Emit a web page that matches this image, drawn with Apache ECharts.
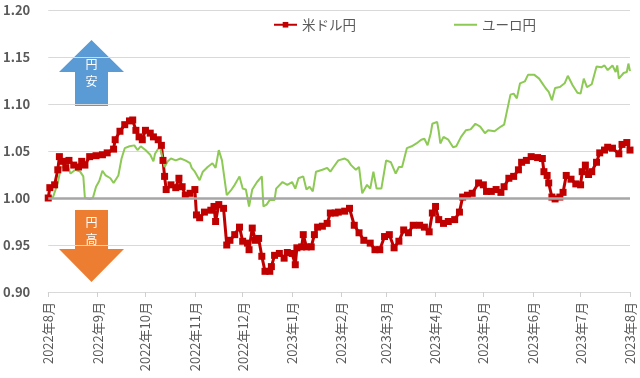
<!DOCTYPE html>
<html>
<head>
<meta charset="utf-8">
<script src="https://cdn.jsdelivr.net/npm/echarts@6/dist/echarts.min.js"></script>
<style>
  html, body { margin: 0; padding: 0; background: #fff; }
  #chart { width: 640px; height: 378px; }
</style>
</head>
<body>
<div id="chart"></div>
<script>
  // 2022/8/1 = 1.00 として指数化（日数は 2022/8/1 からの経過日）
  const usdDays = [0, 1, 4, 6, 7, 9, 11, 13, 16, 19, 21, 23, 26, 30, 34, 37, 41, 42, 45, 48,
    51, 53, 55, 57, 59, 61, 64, 66, 69, 71, 72, 73, 74, 77, 80, 82, 84, 86, 89, 92,
    93, 95, 98, 102, 104, 105, 107, 110, 112, 114, 117, 120, 122, 125, 126, 128, 130, 132, 134, 136,
    139, 140, 142, 145, 148, 150, 153, 155, 156, 159, 160, 162, 165, 167, 169, 172, 175, 177, 180, 182,
    186, 189, 192, 195, 198, 202, 205, 208, 211, 214, 217, 220, 223, 226, 229, 233, 236, 239, 241, 243,
    245, 248, 251, 255, 258, 260, 263, 266, 270, 273, 275, 278, 281, 284, 286, 289, 292, 295, 297, 300,
    303, 307, 310, 311, 313, 314, 316, 318, 321, 323, 325, 328, 331, 334, 335, 337, 339, 341, 344, 346,
    349, 351, 354, 358, 360, 363, 365]
  const usdJpy = [1.000, 1.011, 1.014, 1.030, 1.044, 1.039, 1.032, 1.040, 1.035, 1.033, 1.039, 1.035, 1.044, 1.045, 1.046, 1.048, 1.052, 1.062, 1.071, 1.078,
    1.082, 1.083, 1.072, 1.065, 1.062, 1.072, 1.069, 1.065, 1.062, 1.056, 1.040, 1.023, 1.009, 1.014, 1.011, 1.021, 1.012, 1.003, 1.005, 1.009,
    0.982, 0.979, 0.985, 0.987, 0.991, 0.975, 0.993, 0.989, 0.950, 0.955, 0.961, 0.969, 0.954, 0.952, 0.945, 0.968, 0.955, 0.957, 0.938, 0.922,
    0.922, 0.927, 0.939, 0.941, 0.936, 0.942, 0.941, 0.929, 0.947, 0.948, 0.961, 0.948, 0.948, 0.961, 0.969, 0.970, 0.973, 0.984, 0.984, 0.985,
    0.986, 0.989, 0.971, 0.963, 0.955, 0.952, 0.945, 0.945, 0.959, 0.961, 0.947, 0.954, 0.966, 0.963, 0.971, 0.971, 0.969, 0.964, 0.984, 0.991,
    0.977, 0.973, 0.975, 0.977, 0.985, 1.001, 1.003, 1.005, 1.016, 1.014, 1.007, 1.007, 1.009, 1.006, 1.012, 1.021, 1.023, 1.030, 1.038, 1.040,
    1.044, 1.043, 1.042, 1.028, 1.024, 1.016, 1.001, 0.999, 1.001, 1.006, 1.024, 1.020, 1.015, 1.014, 1.028, 1.035, 1.025, 1.028, 1.038, 1.048,
    1.051, 1.054, 1.053, 1.047, 1.057, 1.059, 1.051]

  const eurDays = [0, 3, 6, 8, 11, 12, 14, 17, 20, 22, 23, 26, 28, 30, 32, 34, 36, 39, 41, 44,
    46, 48, 51, 54, 56, 58, 61, 64, 66, 67, 70, 71, 73, 75, 77, 80, 83, 86, 89, 90,
    92, 95, 97, 100, 103, 105, 107, 109, 110, 112, 115, 117, 120, 122, 124, 126, 128, 131, 134, 135,
    137, 139, 142, 143, 147, 150, 153, 155, 157, 160, 162, 164, 166, 168, 172, 175, 177, 179, 182, 186,
    188, 190, 193, 195, 197, 200, 202, 204, 206, 209, 212, 215, 218, 220, 222, 225, 228, 231, 234, 236,
    238, 240, 241, 244, 245, 246, 248, 251, 254, 256, 259, 262, 265, 268, 271, 274, 276, 280, 284, 286,
    288, 290, 292, 294, 296, 299, 301, 305, 308, 310, 312, 314, 316, 318, 321, 324, 326, 329, 332, 334,
    336, 338, 341, 344, 347, 349, 351, 354, 356, 357, 358, 361, 363, 364, 365]
  const eurJpy = [1.000, 1.001, 1.016, 1.033, 1.032, 1.035, 1.026, 1.030, 1.028, 1.023, 1.000, 0.999, 1.000, 1.012, 1.018, 1.029, 1.024, 1.021, 1.016, 1.024,
    1.042, 1.053, 1.055, 1.056, 1.051, 1.055, 1.051, 1.046, 1.039, 1.047, 1.055, 1.053, 1.033, 1.039, 1.042, 1.040, 1.042, 1.040, 1.037, 1.032,
    1.028, 1.019, 1.028, 1.033, 1.037, 1.032, 1.051, 1.040, 1.038, 1.003, 1.009, 1.014, 1.023, 1.010, 1.009, 0.991, 1.009, 1.017, 1.023, 0.991,
    0.993, 0.998, 0.998, 1.010, 1.017, 1.014, 1.017, 1.010, 1.021, 1.023, 1.009, 1.012, 1.007, 1.028, 1.030, 1.032, 1.028, 1.033, 1.040, 1.042,
    1.040, 1.035, 1.030, 1.033, 1.005, 1.014, 1.010, 1.028, 1.010, 1.010, 1.040, 1.038, 1.026, 1.033, 1.033, 1.053, 1.055, 1.058, 1.062, 1.063,
    1.056, 1.069, 1.079, 1.081, 1.071, 1.058, 1.065, 1.062, 1.054, 1.055, 1.065, 1.072, 1.073, 1.079, 1.076, 1.069, 1.072, 1.071, 1.076, 1.078,
    1.094, 1.110, 1.111, 1.106, 1.122, 1.124, 1.131, 1.131, 1.127, 1.122, 1.117, 1.113, 1.104, 1.117, 1.118, 1.122, 1.130, 1.120, 1.112, 1.111,
    1.127, 1.118, 1.121, 1.140, 1.139, 1.141, 1.136, 1.141, 1.134, 1.141, 1.127, 1.133, 1.134, 1.143, 1.135]

  const yTicks = { min: 0.90, max: 1.20, step: 0.05 }

  const toTime = d => new Date(2022, 7, 1 + d).getTime()
  const pairs = (days, vals) => days.map((d, i) => [toTime(d), vals[i]])

  const font = '"Noto Sans CJK JP", "Noto Sans", sans-serif'
  const myChart = echarts.init(document.getElementById('chart'))

  let option = {
    animation: false,
    textStyle: { fontFamily: font },
    legend: {
      data: [
        { name: '米ドル円' },
        { name: 'ユーロ円', itemStyle: { opacity: 0 } }
      ],
      left: 268,
      top: 13,
      itemGap: 97,
      itemWidth: 23,
      itemHeight: 7,
      textStyle: { color: '#595959', fontSize: 13.5, fontFamily: font }
    },
    grid: { left: 45, right: 10, top: 10, bottom: 86 },
    xAxis: {
      type: 'time',
      min: toTime(0),
      max: toTime(365),
      splitNumber: 12,
      axisLine: { lineStyle: { color: '#d9d9d9' } },
      axisTick: { show: true, length: 5, lineStyle: { color: '#cfcfcf' } },
      splitLine: { show: false },
      axisLabel: {
        rotate: 90,
        margin: 10,
        color: '#595959',
        fontSize: 13,
        fontFamily: font,
        showMinLabel: true,
        showMaxLabel: true,
        formatter: v => {
          let d = new Date(v)
          return `${d.getFullYear()}年${d.getMonth() + 1}月`
        }
      }
    },
    yAxis: {
      type: 'value',
      min: yTicks.min,
      max: yTicks.max,
      interval: yTicks.step,
      axisLine: { show: false },
      axisTick: { show: false },
      splitLine: { lineStyle: { color: '#d9d9d9' } },
      axisLabel: {
        margin: 18,
        color: '#595959',
        fontSize: 13,
        fontWeight: 'bold',
        fontFamily: font,
        formatter: v => v.toFixed(2)
      }
    },
    series: [{
      name: '米ドル円',
      type: 'line',
      data: pairs(usdDays, usdJpy),
      color: '#c00000',
      symbol: 'rect',
      symbolSize: 7,
      lineStyle: { width: 3, color: '#c00000' },
      itemStyle: { color: '#c00000' },
      markLine: {
        silent: true,
        symbol: 'none',
        label: { show: false },
        lineStyle: { color: '#a6a6a6', width: 2.5, type: 'solid' },
        data: [{ yAxis: 1.0 }]
      }
    }, {
      name: 'ユーロ円',
      type: 'line',
      data: pairs(eurDays, eurJpy),
      color: '#8dc955',
      symbol: 'none',
      lineStyle: { width: 2, color: '#8dc955' }
    }],
    graphic: [{
      type: 'polygon',
      shape: { points: [[91.5, 40], [124, 72], [108, 72], [108, 106], [75, 106], [75, 72], [59, 72]] },
      style: { fill: '#5b9bd5' }
    }, {
      type: 'text', x: 91.5, y: 64,
      style: { text: '円', fill: '#fff', fontSize: 12, fontFamily: font, align: 'center', verticalAlign: 'middle' }
    }, {
      type: 'text', x: 91.5, y: 81,
      style: { text: '安', fill: '#fff', fontSize: 12, fontFamily: font, align: 'center', verticalAlign: 'middle' }
    }, {
      type: 'polygon',
      shape: { points: [[75, 210], [108, 210], [108, 249], [124, 249], [91.5, 282], [59, 249], [75, 249]] },
      style: { fill: '#ed7d31' }
    }, {
      type: 'text', x: 91.5, y: 222,
      style: { text: '円', fill: '#fff', fontSize: 12, fontFamily: font, align: 'center', verticalAlign: 'middle' }
    }, {
      type: 'text', x: 91.5, y: 239,
      style: { text: '高', fill: '#fff', fontSize: 12, fontFamily: font, align: 'center', verticalAlign: 'middle' }
    }]
  }
  myChart.setOption(option)
</script>
</body>
</html>
